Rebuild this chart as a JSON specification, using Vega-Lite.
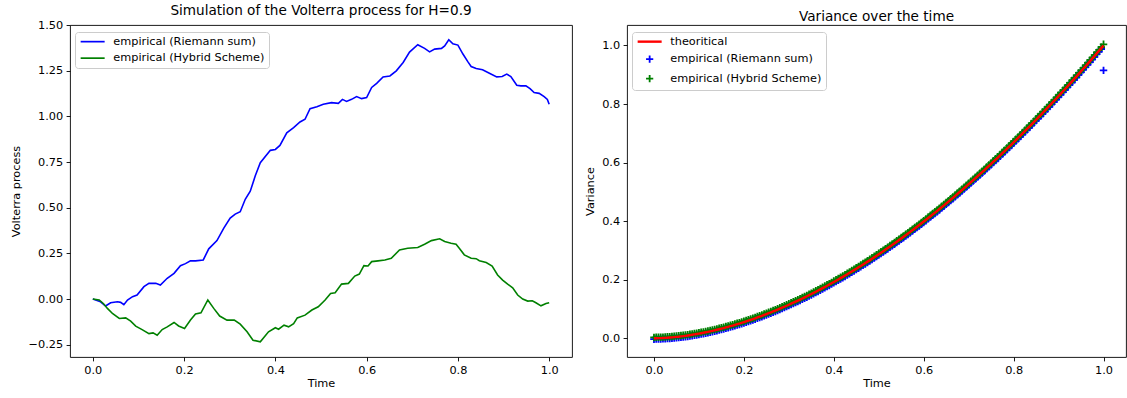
{
  "$schema": "https://vega.github.io/schema/vega-lite/v6.json",
  "padding": {"left": 10, "top": 3, "right": 0, "bottom": 0},
  "background": "white",
  "config": {
    "font": "DejaVu Sans",
    "view": {"stroke": "black", "strokeWidth": 0.9},
    "axis": {
      "grid": false, "domain": false, "tickColor": "black", "tickSize": 3.9, "tickWidth": 0.9,
      "labelFontSize": 11.3, "labelColor": "black", "labelPadding": 3.5, "labelFlush": false, "labelOverlap": false,
      "titleFontSize": 11.3, "titleFontWeight": "normal", "titleColor": "black", "titlePadding": 6
    },
    "axisX": {"titlePadding": 2},
    "title": {"fontSize": 13.6, "fontWeight": "normal", "color": "black", "offset": 1},
    "legend": {
      "orient": "none", "legendX": 5, "legendY": 7, "title": null,
      "fillColor": "white", "strokeColor": "#cccccc", "cornerRadius": 3, "padding": 4,
      "labelFontSize": 11.3, "labelColor": "black", "labelOffset": 15, "rowPadding": 4.5,
      "symbolOpacity": 1, "symbolOffset": 8, "symbolSize": 64
    }
  },
  "datasets": {
    "volterra": [
      {"t":0,"v":0,"s":"empirical (Riemann sum)"},{"t":0.017,"v":-0.015,"s":"empirical (Riemann sum)"},{"t":0.028,"v":-0.038,"s":"empirical (Riemann sum)"},{"t":0.039,"v":-0.02,"s":"empirical (Riemann sum)"},{"t":0.054,"v":-0.015,"s":"empirical (Riemann sum)"},{"t":0.061,"v":-0.018,"s":"empirical (Riemann sum)"},{"t":0.068,"v":-0.031,"s":"empirical (Riemann sum)"},{"t":0.076,"v":-0.005,"s":"empirical (Riemann sum)"},{"t":0.087,"v":0.013,"s":"empirical (Riemann sum)"},{"t":0.097,"v":0.022,"s":"empirical (Riemann sum)"},{"t":0.112,"v":0.068,"s":"empirical (Riemann sum)"},{"t":0.123,"v":0.086,"s":"empirical (Riemann sum)"},{"t":0.138,"v":0.086,"s":"empirical (Riemann sum)"},{"t":0.148,"v":0.077,"s":"empirical (Riemann sum)"},{"t":0.163,"v":0.114,"s":"empirical (Riemann sum)"},{"t":0.178,"v":0.141,"s":"empirical (Riemann sum)"},{"t":0.192,"v":0.183,"s":"empirical (Riemann sum)"},{"t":0.203,"v":0.194,"s":"empirical (Riemann sum)"},{"t":0.214,"v":0.209,"s":"empirical (Riemann sum)"},{"t":0.225,"v":0.209,"s":"empirical (Riemann sum)"},{"t":0.242,"v":0.214,"s":"empirical (Riemann sum)"},{"t":0.254,"v":0.275,"s":"empirical (Riemann sum)"},{"t":0.272,"v":0.32,"s":"empirical (Riemann sum)"},{"t":0.287,"v":0.388,"s":"empirical (Riemann sum)"},{"t":0.301,"v":0.443,"s":"empirical (Riemann sum)"},{"t":0.312,"v":0.465,"s":"empirical (Riemann sum)"},{"t":0.323,"v":0.478,"s":"empirical (Riemann sum)"},{"t":0.334,"v":0.546,"s":"empirical (Riemann sum)"},{"t":0.345,"v":0.59,"s":"empirical (Riemann sum)"},{"t":0.356,"v":0.675,"s":"empirical (Riemann sum)"},{"t":0.367,"v":0.746,"s":"empirical (Riemann sum)"},{"t":0.389,"v":0.814,"s":"empirical (Riemann sum)"},{"t":0.4,"v":0.819,"s":"empirical (Riemann sum)"},{"t":0.41,"v":0.841,"s":"empirical (Riemann sum)"},{"t":0.425,"v":0.91,"s":"empirical (Riemann sum)"},{"t":0.44,"v":0.938,"s":"empirical (Riemann sum)"},{"t":0.454,"v":0.969,"s":"empirical (Riemann sum)"},{"t":0.465,"v":0.984,"s":"empirical (Riemann sum)"},{"t":0.476,"v":1.042,"s":"empirical (Riemann sum)"},{"t":0.491,"v":1.053,"s":"empirical (Riemann sum)"},{"t":0.505,"v":1.066,"s":"empirical (Riemann sum)"},{"t":0.523,"v":1.075,"s":"empirical (Riemann sum)"},{"t":0.538,"v":1.071,"s":"empirical (Riemann sum)"},{"t":0.547,"v":1.093,"s":"empirical (Riemann sum)"},{"t":0.556,"v":1.082,"s":"empirical (Riemann sum)"},{"t":0.567,"v":1.093,"s":"empirical (Riemann sum)"},{"t":0.578,"v":1.108,"s":"empirical (Riemann sum)"},{"t":0.589,"v":1.097,"s":"empirical (Riemann sum)"},{"t":0.6,"v":1.103,"s":"empirical (Riemann sum)"},{"t":0.611,"v":1.158,"s":"empirical (Riemann sum)"},{"t":0.622,"v":1.181,"s":"empirical (Riemann sum)"},{"t":0.636,"v":1.216,"s":"empirical (Riemann sum)"},{"t":0.651,"v":1.221,"s":"empirical (Riemann sum)"},{"t":0.665,"v":1.249,"s":"empirical (Riemann sum)"},{"t":0.68,"v":1.295,"s":"empirical (Riemann sum)"},{"t":0.694,"v":1.352,"s":"empirical (Riemann sum)"},{"t":0.712,"v":1.392,"s":"empirical (Riemann sum)"},{"t":0.727,"v":1.372,"s":"empirical (Riemann sum)"},{"t":0.738,"v":1.353,"s":"empirical (Riemann sum)"},{"t":0.749,"v":1.368,"s":"empirical (Riemann sum)"},{"t":0.764,"v":1.372,"s":"empirical (Riemann sum)"},{"t":0.771,"v":1.386,"s":"empirical (Riemann sum)"},{"t":0.78,"v":1.419,"s":"empirical (Riemann sum)"},{"t":0.789,"v":1.397,"s":"empirical (Riemann sum)"},{"t":0.8,"v":1.39,"s":"empirical (Riemann sum)"},{"t":0.811,"v":1.341,"s":"empirical (Riemann sum)"},{"t":0.822,"v":1.298,"s":"empirical (Riemann sum)"},{"t":0.829,"v":1.273,"s":"empirical (Riemann sum)"},{"t":0.84,"v":1.262,"s":"empirical (Riemann sum)"},{"t":0.854,"v":1.255,"s":"empirical (Riemann sum)"},{"t":0.869,"v":1.236,"s":"empirical (Riemann sum)"},{"t":0.885,"v":1.216,"s":"empirical (Riemann sum)"},{"t":0.897,"v":1.218,"s":"empirical (Riemann sum)"},{"t":0.907,"v":1.231,"s":"empirical (Riemann sum)"},{"t":0.916,"v":1.218,"s":"empirical (Riemann sum)"},{"t":0.929,"v":1.17,"s":"empirical (Riemann sum)"},{"t":0.938,"v":1.167,"s":"empirical (Riemann sum)"},{"t":0.949,"v":1.167,"s":"empirical (Riemann sum)"},{"t":0.958,"v":1.152,"s":"empirical (Riemann sum)"},{"t":0.967,"v":1.13,"s":"empirical (Riemann sum)"},{"t":0.978,"v":1.126,"s":"empirical (Riemann sum)"},{"t":0.989,"v":1.108,"s":"empirical (Riemann sum)"},{"t":0.996,"v":1.093,"s":"empirical (Riemann sum)"},{"t":1.0,"v":1.066,"s":"empirical (Riemann sum)"},
      {"t":0,"v":0,"s":"empirical (Hybrid Scheme)"},{"t":0.014,"v":-0.005,"s":"empirical (Hybrid Scheme)"},{"t":0.023,"v":-0.024,"s":"empirical (Hybrid Scheme)"},{"t":0.032,"v":-0.051,"s":"empirical (Hybrid Scheme)"},{"t":0.043,"v":-0.079,"s":"empirical (Hybrid Scheme)"},{"t":0.058,"v":-0.106,"s":"empirical (Hybrid Scheme)"},{"t":0.072,"v":-0.103,"s":"empirical (Hybrid Scheme)"},{"t":0.083,"v":-0.121,"s":"empirical (Hybrid Scheme)"},{"t":0.094,"v":-0.148,"s":"empirical (Hybrid Scheme)"},{"t":0.108,"v":-0.167,"s":"empirical (Hybrid Scheme)"},{"t":0.123,"v":-0.189,"s":"empirical (Hybrid Scheme)"},{"t":0.132,"v":-0.185,"s":"empirical (Hybrid Scheme)"},{"t":0.141,"v":-0.198,"s":"empirical (Hybrid Scheme)"},{"t":0.152,"v":-0.167,"s":"empirical (Hybrid Scheme)"},{"t":0.163,"v":-0.152,"s":"empirical (Hybrid Scheme)"},{"t":0.178,"v":-0.128,"s":"empirical (Hybrid Scheme)"},{"t":0.188,"v":-0.147,"s":"empirical (Hybrid Scheme)"},{"t":0.201,"v":-0.161,"s":"empirical (Hybrid Scheme)"},{"t":0.214,"v":-0.115,"s":"empirical (Hybrid Scheme)"},{"t":0.225,"v":-0.082,"s":"empirical (Hybrid Scheme)"},{"t":0.237,"v":-0.075,"s":"empirical (Hybrid Scheme)"},{"t":0.252,"v":-0.005,"s":"empirical (Hybrid Scheme)"},{"t":0.265,"v":-0.051,"s":"empirical (Hybrid Scheme)"},{"t":0.278,"v":-0.093,"s":"empirical (Hybrid Scheme)"},{"t":0.294,"v":-0.115,"s":"empirical (Hybrid Scheme)"},{"t":0.31,"v":-0.115,"s":"empirical (Hybrid Scheme)"},{"t":0.323,"v":-0.137,"s":"empirical (Hybrid Scheme)"},{"t":0.338,"v":-0.179,"s":"empirical (Hybrid Scheme)"},{"t":0.351,"v":-0.225,"s":"empirical (Hybrid Scheme)"},{"t":0.367,"v":-0.234,"s":"empirical (Hybrid Scheme)"},{"t":0.385,"v":-0.179,"s":"empirical (Hybrid Scheme)"},{"t":0.4,"v":-0.157,"s":"empirical (Hybrid Scheme)"},{"t":0.407,"v":-0.165,"s":"empirical (Hybrid Scheme)"},{"t":0.419,"v":-0.143,"s":"empirical (Hybrid Scheme)"},{"t":0.429,"v":-0.152,"s":"empirical (Hybrid Scheme)"},{"t":0.44,"v":-0.134,"s":"empirical (Hybrid Scheme)"},{"t":0.448,"v":-0.103,"s":"empirical (Hybrid Scheme)"},{"t":0.465,"v":-0.088,"s":"empirical (Hybrid Scheme)"},{"t":0.48,"v":-0.06,"s":"empirical (Hybrid Scheme)"},{"t":0.494,"v":-0.042,"s":"empirical (Hybrid Scheme)"},{"t":0.509,"v":-0.005,"s":"empirical (Hybrid Scheme)"},{"t":0.521,"v":0.031,"s":"empirical (Hybrid Scheme)"},{"t":0.531,"v":0.035,"s":"empirical (Hybrid Scheme)"},{"t":0.545,"v":0.082,"s":"empirical (Hybrid Scheme)"},{"t":0.56,"v":0.086,"s":"empirical (Hybrid Scheme)"},{"t":0.574,"v":0.126,"s":"empirical (Hybrid Scheme)"},{"t":0.584,"v":0.137,"s":"empirical (Hybrid Scheme)"},{"t":0.594,"v":0.183,"s":"empirical (Hybrid Scheme)"},{"t":0.603,"v":0.181,"s":"empirical (Hybrid Scheme)"},{"t":0.611,"v":0.205,"s":"empirical (Hybrid Scheme)"},{"t":0.625,"v":0.209,"s":"empirical (Hybrid Scheme)"},{"t":0.64,"v":0.214,"s":"empirical (Hybrid Scheme)"},{"t":0.654,"v":0.223,"s":"empirical (Hybrid Scheme)"},{"t":0.672,"v":0.269,"s":"empirical (Hybrid Scheme)"},{"t":0.69,"v":0.278,"s":"empirical (Hybrid Scheme)"},{"t":0.712,"v":0.282,"s":"empirical (Hybrid Scheme)"},{"t":0.727,"v":0.3,"s":"empirical (Hybrid Scheme)"},{"t":0.742,"v":0.32,"s":"empirical (Hybrid Scheme)"},{"t":0.76,"v":0.33,"s":"empirical (Hybrid Scheme)"},{"t":0.771,"v":0.315,"s":"empirical (Hybrid Scheme)"},{"t":0.785,"v":0.306,"s":"empirical (Hybrid Scheme)"},{"t":0.796,"v":0.3,"s":"empirical (Hybrid Scheme)"},{"t":0.803,"v":0.278,"s":"empirical (Hybrid Scheme)"},{"t":0.814,"v":0.242,"s":"empirical (Hybrid Scheme)"},{"t":0.829,"v":0.223,"s":"empirical (Hybrid Scheme)"},{"t":0.84,"v":0.221,"s":"empirical (Hybrid Scheme)"},{"t":0.847,"v":0.21,"s":"empirical (Hybrid Scheme)"},{"t":0.862,"v":0.2,"s":"empirical (Hybrid Scheme)"},{"t":0.875,"v":0.181,"s":"empirical (Hybrid Scheme)"},{"t":0.887,"v":0.132,"s":"empirical (Hybrid Scheme)"},{"t":0.898,"v":0.104,"s":"empirical (Hybrid Scheme)"},{"t":0.909,"v":0.082,"s":"empirical (Hybrid Scheme)"},{"t":0.92,"v":0.062,"s":"empirical (Hybrid Scheme)"},{"t":0.931,"v":0.022,"s":"empirical (Hybrid Scheme)"},{"t":0.942,"v":0.0,"s":"empirical (Hybrid Scheme)"},{"t":0.953,"v":-0.011,"s":"empirical (Hybrid Scheme)"},{"t":0.963,"v":-0.009,"s":"empirical (Hybrid Scheme)"},{"t":0.971,"v":-0.02,"s":"empirical (Hybrid Scheme)"},{"t":0.982,"v":-0.037,"s":"empirical (Hybrid Scheme)"},{"t":0.993,"v":-0.024,"s":"empirical (Hybrid Scheme)"},{"t":1.0,"v":-0.02,"s":"empirical (Hybrid Scheme)"}
    ],
    "variance": [
      {"t":0,"th":0,"rs":-0.003,"hs":0.003},{"t":0.005,"th":0.0001,"rs":-0.0029,"hs":0.0031},{"t":0.01,"th":0.0003,"rs":-0.0027,"hs":0.0033},{"t":0.015,"th":0.0005,"rs":-0.0025,"hs":0.0035},{"t":0.02,"th":0.0009,"rs":-0.0021,"hs":0.0039},{"t":0.025,"th":0.0013,"rs":-0.0017,"hs":0.0043},{"t":0.03,"th":0.0018,"rs":-0.0012,"hs":0.0048},{"t":0.035,"th":0.0024,"rs":-0.0006,"hs":0.0054},{"t":0.04,"th":0.003,"rs":0,"hs":0.006},{"t":0.045,"th":0.0038,"rs":0.0008,"hs":0.0068},
      {"t":0.05,"th":0.0046,"rs":0.0016,"hs":0.0076},{"t":0.055,"th":0.0054,"rs":0.0024,"hs":0.0084},{"t":0.06,"th":0.0063,"rs":0.0033,"hs":0.0093},{"t":0.065,"th":0.0073,"rs":0.0043,"hs":0.0103},{"t":0.07,"th":0.0083,"rs":0.0053,"hs":0.0113},{"t":0.075,"th":0.0094,"rs":0.0064,"hs":0.0124},{"t":0.08,"th":0.0106,"rs":0.0076,"hs":0.0136},{"t":0.085,"th":0.0118,"rs":0.0088,"hs":0.0148},{"t":0.09,"th":0.0131,"rs":0.0101,"hs":0.0161},{"t":0.095,"th":0.0144,"rs":0.0114,"hs":0.0174},
      {"t":0.1,"th":0.0158,"rs":0.0128,"hs":0.0188},{"t":0.105,"th":0.0173,"rs":0.0143,"hs":0.0203},{"t":0.11,"th":0.0188,"rs":0.0158,"hs":0.0218},{"t":0.115,"th":0.0204,"rs":0.0174,"hs":0.0234},{"t":0.12,"th":0.022,"rs":0.019,"hs":0.025},{"t":0.125,"th":0.0237,"rs":0.0207,"hs":0.0267},{"t":0.13,"th":0.0254,"rs":0.0224,"hs":0.0284},{"t":0.135,"th":0.0272,"rs":0.0242,"hs":0.0302},{"t":0.14,"th":0.029,"rs":0.026,"hs":0.032},{"t":0.145,"th":0.0309,"rs":0.0279,"hs":0.0339},
      {"t":0.15,"th":0.0329,"rs":0.0299,"hs":0.0359},{"t":0.155,"th":0.0349,"rs":0.0319,"hs":0.0379},{"t":0.16,"th":0.0369,"rs":0.0339,"hs":0.0399},{"t":0.165,"th":0.039,"rs":0.036,"hs":0.042},{"t":0.17,"th":0.0412,"rs":0.0382,"hs":0.0442},{"t":0.175,"th":0.0434,"rs":0.0404,"hs":0.0464},{"t":0.18,"th":0.0457,"rs":0.0427,"hs":0.0487},{"t":0.185,"th":0.048,"rs":0.045,"hs":0.051},{"t":0.19,"th":0.0503,"rs":0.0473,"hs":0.0533},{"t":0.195,"th":0.0527,"rs":0.0497,"hs":0.0557},
      {"t":0.2,"th":0.0552,"rs":0.0522,"hs":0.0582},{"t":0.205,"th":0.0577,"rs":0.0547,"hs":0.0607},{"t":0.21,"th":0.0603,"rs":0.0573,"hs":0.0633},{"t":0.215,"th":0.0629,"rs":0.0599,"hs":0.0659},{"t":0.22,"th":0.0655,"rs":0.0625,"hs":0.0685},{"t":0.225,"th":0.0682,"rs":0.0652,"hs":0.0712},{"t":0.23,"th":0.071,"rs":0.068,"hs":0.074},{"t":0.235,"th":0.0738,"rs":0.0708,"hs":0.0768},{"t":0.24,"th":0.0766,"rs":0.0736,"hs":0.0796},{"t":0.245,"th":0.0795,"rs":0.0765,"hs":0.0825},
      {"t":0.25,"th":0.0825,"rs":0.0795,"hs":0.0855},{"t":0.255,"th":0.0855,"rs":0.0825,"hs":0.0885},{"t":0.26,"th":0.0885,"rs":0.0855,"hs":0.0915},{"t":0.265,"th":0.0916,"rs":0.0886,"hs":0.0946},{"t":0.27,"th":0.0947,"rs":0.0917,"hs":0.0977},{"t":0.275,"th":0.0979,"rs":0.0949,"hs":0.1009},{"t":0.28,"th":0.1011,"rs":0.0981,"hs":0.1041},{"t":0.285,"th":0.1044,"rs":0.1014,"hs":0.1074},{"t":0.29,"th":0.1077,"rs":0.1047,"hs":0.1107},{"t":0.295,"th":0.1111,"rs":0.1081,"hs":0.1141},
      {"t":0.3,"th":0.1145,"rs":0.1115,"hs":0.1175},{"t":0.305,"th":0.118,"rs":0.115,"hs":0.121},{"t":0.31,"th":0.1215,"rs":0.1185,"hs":0.1245},{"t":0.315,"th":0.125,"rs":0.122,"hs":0.128},{"t":0.32,"th":0.1286,"rs":0.1256,"hs":0.1316},{"t":0.325,"th":0.1322,"rs":0.1292,"hs":0.1352},{"t":0.33,"th":0.1359,"rs":0.1329,"hs":0.1389},{"t":0.335,"th":0.1396,"rs":0.1366,"hs":0.1426},{"t":0.34,"th":0.1434,"rs":0.1404,"hs":0.1464},{"t":0.345,"th":0.1472,"rs":0.1442,"hs":0.1502},
      {"t":0.35,"th":0.1511,"rs":0.1481,"hs":0.1541},{"t":0.355,"th":0.155,"rs":0.152,"hs":0.158},{"t":0.36,"th":0.159,"rs":0.156,"hs":0.162},{"t":0.365,"th":0.163,"rs":0.16,"hs":0.166},{"t":0.37,"th":0.167,"rs":0.164,"hs":0.17},{"t":0.375,"th":0.1711,"rs":0.1681,"hs":0.1741},{"t":0.38,"th":0.1752,"rs":0.1722,"hs":0.1782},{"t":0.385,"th":0.1794,"rs":0.1764,"hs":0.1824},{"t":0.39,"th":0.1836,"rs":0.1806,"hs":0.1866},{"t":0.395,"th":0.1879,"rs":0.1849,"hs":0.1909},
      {"t":0.4,"th":0.1922,"rs":0.1892,"hs":0.1952},{"t":0.405,"th":0.1965,"rs":0.1935,"hs":0.1995},{"t":0.41,"th":0.2009,"rs":0.1979,"hs":0.2039},{"t":0.415,"th":0.2053,"rs":0.2023,"hs":0.2083},{"t":0.42,"th":0.2098,"rs":0.2068,"hs":0.2128},{"t":0.425,"th":0.2143,"rs":0.2113,"hs":0.2173},{"t":0.43,"th":0.2189,"rs":0.2159,"hs":0.2219},{"t":0.435,"th":0.2235,"rs":0.2205,"hs":0.2265},{"t":0.44,"th":0.2281,"rs":0.2251,"hs":0.2311},{"t":0.445,"th":0.2328,"rs":0.2298,"hs":0.2358},
      {"t":0.45,"th":0.2376,"rs":0.2346,"hs":0.2406},{"t":0.455,"th":0.2423,"rs":0.2393,"hs":0.2453},{"t":0.46,"th":0.2471,"rs":0.2441,"hs":0.2501},{"t":0.465,"th":0.252,"rs":0.249,"hs":0.255},{"t":0.47,"th":0.2569,"rs":0.2539,"hs":0.2599},{"t":0.475,"th":0.2618,"rs":0.2588,"hs":0.2648},{"t":0.48,"th":0.2668,"rs":0.2638,"hs":0.2698},{"t":0.485,"th":0.2718,"rs":0.2688,"hs":0.2748},{"t":0.49,"th":0.2769,"rs":0.2739,"hs":0.2799},{"t":0.495,"th":0.282,"rs":0.279,"hs":0.285},
      {"t":0.5,"th":0.2872,"rs":0.2842,"hs":0.2902},{"t":0.505,"th":0.2924,"rs":0.2894,"hs":0.2954},{"t":0.51,"th":0.2976,"rs":0.2946,"hs":0.3006},{"t":0.515,"th":0.3029,"rs":0.2999,"hs":0.3059},{"t":0.52,"th":0.3082,"rs":0.3052,"hs":0.3112},{"t":0.525,"th":0.3136,"rs":0.3106,"hs":0.3166},{"t":0.53,"th":0.319,"rs":0.316,"hs":0.322},{"t":0.535,"th":0.3244,"rs":0.3214,"hs":0.3274},{"t":0.54,"th":0.3298,"rs":0.3268,"hs":0.3328},{"t":0.545,"th":0.3353,"rs":0.3323,"hs":0.3383},
      {"t":0.55,"th":0.3409,"rs":0.3379,"hs":0.3439},{"t":0.555,"th":0.3465,"rs":0.3435,"hs":0.3495},{"t":0.56,"th":0.3522,"rs":0.3492,"hs":0.3552},{"t":0.565,"th":0.3578,"rs":0.3548,"hs":0.3608},{"t":0.57,"th":0.3635,"rs":0.3605,"hs":0.3665},{"t":0.575,"th":0.3693,"rs":0.3663,"hs":0.3723},{"t":0.58,"th":0.3751,"rs":0.3721,"hs":0.3781},{"t":0.585,"th":0.3809,"rs":0.3779,"hs":0.3839},{"t":0.59,"th":0.3868,"rs":0.3838,"hs":0.3898},{"t":0.595,"th":0.3927,"rs":0.3897,"hs":0.3957},
      {"t":0.6,"th":0.3987,"rs":0.3957,"hs":0.4017},{"t":0.605,"th":0.4047,"rs":0.4017,"hs":0.4077},{"t":0.61,"th":0.4108,"rs":0.4078,"hs":0.4138},{"t":0.615,"th":0.4169,"rs":0.4139,"hs":0.4199},{"t":0.62,"th":0.423,"rs":0.42,"hs":0.426},{"t":0.625,"th":0.4291,"rs":0.4261,"hs":0.4321},{"t":0.63,"th":0.4353,"rs":0.4323,"hs":0.4383},{"t":0.635,"th":0.4415,"rs":0.4385,"hs":0.4445},{"t":0.64,"th":0.4478,"rs":0.4448,"hs":0.4508},{"t":0.645,"th":0.4541,"rs":0.4511,"hs":0.4571},
      {"t":0.65,"th":0.4605,"rs":0.4575,"hs":0.4635},{"t":0.655,"th":0.4669,"rs":0.4639,"hs":0.4699},{"t":0.66,"th":0.4733,"rs":0.4703,"hs":0.4763},{"t":0.665,"th":0.4798,"rs":0.4768,"hs":0.4828},{"t":0.67,"th":0.4863,"rs":0.4833,"hs":0.4893},{"t":0.675,"th":0.4929,"rs":0.4899,"hs":0.4959},{"t":0.68,"th":0.4995,"rs":0.4965,"hs":0.5025},{"t":0.685,"th":0.5061,"rs":0.5031,"hs":0.5091},{"t":0.69,"th":0.5128,"rs":0.5098,"hs":0.5158},{"t":0.695,"th":0.5195,"rs":0.5165,"hs":0.5225},
      {"t":0.7,"th":0.5262,"rs":0.5232,"hs":0.5292},{"t":0.705,"th":0.533,"rs":0.53,"hs":0.536},{"t":0.71,"th":0.5398,"rs":0.5368,"hs":0.5428},{"t":0.715,"th":0.5467,"rs":0.5437,"hs":0.5497},{"t":0.72,"th":0.5536,"rs":0.5506,"hs":0.5566},{"t":0.725,"th":0.5605,"rs":0.5575,"hs":0.5635},{"t":0.73,"th":0.5675,"rs":0.5645,"hs":0.5705},{"t":0.735,"th":0.5745,"rs":0.5715,"hs":0.5775},{"t":0.74,"th":0.5816,"rs":0.5786,"hs":0.5846},{"t":0.745,"th":0.5887,"rs":0.5857,"hs":0.5917},
      {"t":0.75,"th":0.5958,"rs":0.5928,"hs":0.5988},{"t":0.755,"th":0.603,"rs":0.6,"hs":0.606},{"t":0.76,"th":0.6102,"rs":0.6072,"hs":0.6132},{"t":0.765,"th":0.6174,"rs":0.6144,"hs":0.6204},{"t":0.77,"th":0.6247,"rs":0.6217,"hs":0.6277},{"t":0.775,"th":0.632,"rs":0.629,"hs":0.635},{"t":0.78,"th":0.6394,"rs":0.6364,"hs":0.6424},{"t":0.785,"th":0.6468,"rs":0.6438,"hs":0.6498},{"t":0.79,"th":0.6542,"rs":0.6512,"hs":0.6572},{"t":0.795,"th":0.6617,"rs":0.6587,"hs":0.6647},
      {"t":0.8,"th":0.6692,"rs":0.6662,"hs":0.6722},{"t":0.805,"th":0.6768,"rs":0.6738,"hs":0.6798},{"t":0.81,"th":0.6844,"rs":0.6814,"hs":0.6874},{"t":0.815,"th":0.692,"rs":0.689,"hs":0.695},{"t":0.82,"th":0.6996,"rs":0.6966,"hs":0.7026},{"t":0.825,"th":0.7073,"rs":0.7043,"hs":0.7103},{"t":0.83,"th":0.7151,"rs":0.7121,"hs":0.7181},{"t":0.835,"th":0.7229,"rs":0.7199,"hs":0.7259},{"t":0.84,"th":0.7307,"rs":0.7277,"hs":0.7337},{"t":0.845,"th":0.7385,"rs":0.7355,"hs":0.7415},
      {"t":0.85,"th":0.7464,"rs":0.7434,"hs":0.7494},{"t":0.855,"th":0.7543,"rs":0.7513,"hs":0.7573},{"t":0.86,"th":0.7622,"rs":0.7592,"hs":0.7652},{"t":0.865,"th":0.7702,"rs":0.7672,"hs":0.7732},{"t":0.87,"th":0.7783,"rs":0.7753,"hs":0.7813},{"t":0.875,"th":0.7864,"rs":0.7834,"hs":0.7894},{"t":0.88,"th":0.7945,"rs":0.7915,"hs":0.7975},{"t":0.885,"th":0.8026,"rs":0.7996,"hs":0.8056},{"t":0.89,"th":0.8107,"rs":0.8077,"hs":0.8137},{"t":0.895,"th":0.819,"rs":0.816,"hs":0.822},
      {"t":0.9,"th":0.8273,"rs":0.8243,"hs":0.8303},{"t":0.905,"th":0.8356,"rs":0.8326,"hs":0.8386},{"t":0.91,"th":0.8439,"rs":0.8409,"hs":0.8469},{"t":0.915,"th":0.8523,"rs":0.8493,"hs":0.8553},{"t":0.92,"th":0.8607,"rs":0.8577,"hs":0.8637},{"t":0.925,"th":0.8691,"rs":0.8661,"hs":0.8721},{"t":0.93,"th":0.8775,"rs":0.8745,"hs":0.8805},{"t":0.935,"th":0.886,"rs":0.883,"hs":0.889},{"t":0.94,"th":0.8946,"rs":0.8916,"hs":0.8976},{"t":0.945,"th":0.9032,"rs":0.9002,"hs":0.9062},
      {"t":0.95,"th":0.9118,"rs":0.9088,"hs":0.9148},{"t":0.955,"th":0.9205,"rs":0.9175,"hs":0.9235},{"t":0.96,"th":0.9292,"rs":0.9262,"hs":0.9322},{"t":0.965,"th":0.9379,"rs":0.9349,"hs":0.9409},{"t":0.97,"th":0.9467,"rs":0.9437,"hs":0.9497},{"t":0.975,"th":0.9555,"rs":0.9525,"hs":0.9585},{"t":0.98,"th":0.9643,"rs":0.9613,"hs":0.9673},{"t":0.985,"th":0.9732,"rs":0.9702,"hs":0.9762},{"t":0.99,"th":0.9821,"rs":0.9791,"hs":0.9851},{"t":0.995,"th":0.991,"rs":0.988,"hs":0.994},
      {"t":1.0,"th":1.0,"rs":0.915,"hs":1.004}
    ]
  },
  "spacing": 11,
  "resolve": {"scale": {"color": "independent", "x": "independent", "y": "independent"}, "legend": {"color": "independent"}},
  "hconcat": [
    {
      "width": 502,
      "height": 332,
      "title": "Simulation of the Volterra process for H=0.9",
      "data": {"name": "volterra"},
      "mark": {"type": "line", "strokeWidth": 1.6},
      "encoding": {
        "x": {"field": "t", "type": "quantitative", "scale": {"domain": [-0.05, 1.05], "nice": false, "zero": false},
              "axis": {"values": [0, 0.2, 0.4, 0.6, 0.8, 1.0], "format": ".1f", "title": "Time"}},
        "y": {"field": "v", "type": "quantitative", "scale": {"domain": [-0.317, 1.5], "nice": false, "zero": false},
              "axis": {"values": [-0.25, 0, 0.25, 0.5, 0.75, 1, 1.25, 1.5], "format": ".2f", "title": "Volterra process"}},
        "color": {"field": "s", "type": "nominal",
                  "scale": {"domain": ["empirical (Riemann sum)", "empirical (Hybrid Scheme)"], "range": ["#0000ff", "#008000"]},
                  "legend": {"symbolType": "M-3,0L3,0", "symbolStrokeWidth": 1.7}}
      }
    },
    {
      "width": 499,
      "height": 332,
      "title": "Variance over the time",
      "data": {"name": "variance"},
      "encoding": {
        "x": {"field": "t", "type": "quantitative", "scale": {"domain": [-0.06, 1.05], "nice": false, "zero": false},
              "axis": {"values": [0, 0.2, 0.4, 0.6, 0.8, 1.0], "format": ".1f", "title": "Time"}}
      },
      "layer": [
        {
          "mark": {"type": "point", "shape": "M-1,0L1,0M0,-1L0,1", "filled": false, "size": 56, "strokeWidth": 1.8, "opacity": 1},
          "encoding": {
            "y": {"field": "rs", "type": "quantitative", "scale": {"domain": [-0.064, 1.07], "nice": false, "zero": false},
                  "axis": {"values": [0, 0.2, 0.4, 0.6, 0.8, 1.0], "format": ".1f", "title": "Variance"}},
            "color": {"datum": "empirical (Riemann sum)", "type": "nominal",
                      "scale": {"domain": ["theoritical", "empirical (Riemann sum)", "empirical (Hybrid Scheme)"], "range": ["#ff0000", "#0000ff", "#008000"]},
                      "legend": {
                        "encode": {"symbols": {"update": {
                          "shape": {"signal": "datum.value === 'theoritical' ? 'M-3,0L3,0' : 'M-0.9,0L0.9,0M0,-0.9L0,0.9'"},
                          "strokeWidth": {"signal": "datum.value === 'theoritical' ? 2.4 : 1.8"}
                        }}}
                      }}
          }
        },
        {
          "mark": {"type": "point", "shape": "M-1,0L1,0M0,-1L0,1", "filled": false, "size": 56, "strokeWidth": 1.8, "opacity": 1},
          "encoding": {
            "y": {"field": "hs", "type": "quantitative", "axis": {"title": "Variance"}},
            "color": {"datum": "empirical (Hybrid Scheme)", "type": "nominal",
                      "legend": {
                        "encode": {"symbols": {"update": {
                          "shape": {"signal": "datum.value === 'theoritical' ? 'M-3,0L3,0' : 'M-0.9,0L0.9,0M0,-0.9L0,0.9'"},
                          "strokeWidth": {"signal": "datum.value === 'theoritical' ? 2.4 : 1.8"}
                        }}}
                      }}
          }
        },
        {
          "mark": {"type": "line", "strokeWidth": 2.4},
          "encoding": {
            "y": {"field": "th", "type": "quantitative", "axis": {"title": "Variance"}},
            "color": {"datum": "theoritical", "type": "nominal",
                      "legend": {
                        "encode": {"symbols": {"update": {
                          "shape": {"signal": "datum.value === 'theoritical' ? 'M-3,0L3,0' : 'M-0.9,0L0.9,0M0,-0.9L0,0.9'"},
                          "strokeWidth": {"signal": "datum.value === 'theoritical' ? 2.4 : 1.8"}
                        }}}
                      }}
          }
        }
      ]
    }
  ]
}
